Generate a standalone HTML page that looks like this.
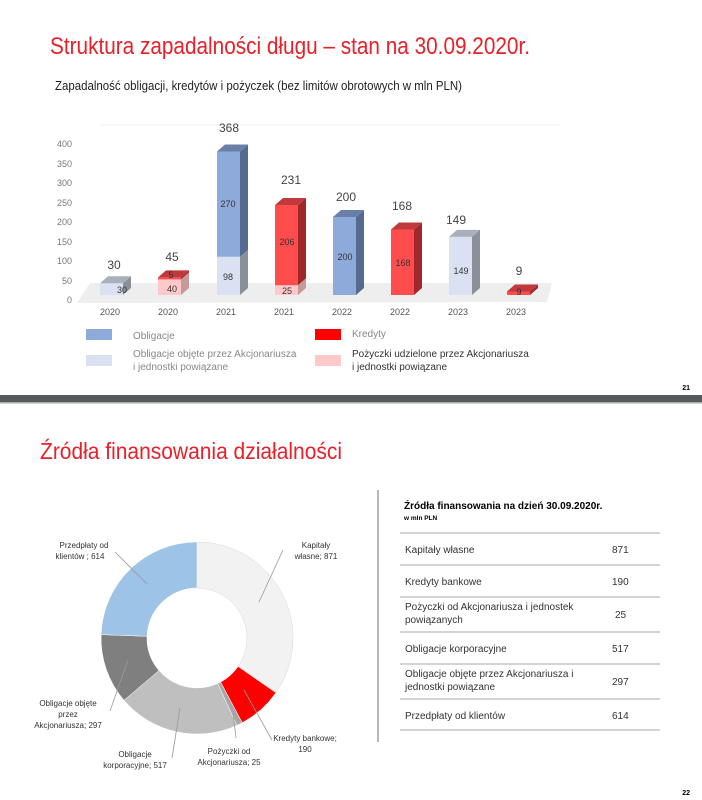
<!DOCTYPE html>
<html><head><meta charset="utf-8"><style>
html,body{margin:0;padding:0;background:#fff;}
svg{display:block;font-family:"Liberation Sans",sans-serif;}
</style></head><body>
<svg width="702" height="800" viewBox="0 0 702 800" xmlns="http://www.w3.org/2000/svg">
<rect width="702" height="800" fill="#fff"/>
<text x="50" y="54" font-size="24" fill="#e8202a" textLength="480" lengthAdjust="spacingAndGlyphs">Struktura zapadalności długu – stan na 30.09.2020r.</text>
<text x="55" y="90" font-size="13" fill="#222" textLength="407" lengthAdjust="spacingAndGlyphs">Zapadalność obligacji, kredytów i pożyczek (bez limitów obrotowych w mln PLN)</text>
<line x1="100" y1="125" x2="560" y2="125" stroke="#f0f0f0"/>
<!-- y axis -->
<g font-size="9" fill="#777" text-anchor="end">
<text x="72" y="303">0</text><text x="72" y="284">50</text><text x="72" y="264">100</text><text x="72" y="245">150</text><text x="72" y="225">200</text><text x="72" y="206">250</text><text x="72" y="186">300</text><text x="72" y="167">350</text><text x="72" y="147">400</text>
</g>
<!-- floor -->
<polygon points="77,303 90,283 552,283 547,302" fill="#eeeeee"/>
<!-- Bar1 -->
<rect x="100" y="283.3" width="23" height="11.7" fill="#d9e1f2"/>
<polygon points="123,283.3 131,276.3 131,288 123,295" fill="#8a9099"/>
<polygon points="100,283.3 108,276.3 131,276.3 123,283.3" fill="#a9b0bb"/>
<!-- Bar2 -->
<rect x="158" y="279.4" width="23" height="15.6" fill="#ffc9c9"/>
<polygon points="181,279.4 189,272.4 189,288 181,295" fill="#c79a9a"/>
<rect x="158" y="277.4" width="23" height="2" fill="#ff4d4d"/>
<polygon points="181,277.4 189,270.4 189,272.4 181,279.4" fill="#a0282b"/>
<polygon points="158,277.4 166,270.4 189,270.4 181,277.4" fill="#c0393b"/>
<!-- Bar3 -->
<rect x="217" y="256.8" width="23" height="38.2" fill="#d9e1f2"/>
<polygon points="240,256.8 248,249.8 248,288 240,295" fill="#8a9099"/>
<rect x="217" y="151.5" width="23" height="105.3" fill="#8eaadb"/>
<polygon points="240,151.5 248,144.5 248,249.8 240,256.8" fill="#56698f"/>
<polygon points="217,151.5 225,144.5 248,144.5 240,151.5" fill="#6a7fa8"/>
<!-- Bar4 -->
<rect x="275" y="285.25" width="23" height="9.75" fill="#ffc9c9"/>
<polygon points="298,285.25 306,278.25 306,288 298,295" fill="#c79a9a"/>
<rect x="275" y="205" width="23" height="80.25" fill="#ff4d4d"/>
<polygon points="298,205 306,198 306,278.25 298,285.25" fill="#a0282b"/>
<polygon points="275,205 283,198 306,198 298,205" fill="#c0393b"/>
<!-- Bar5 -->
<rect x="333" y="217" width="23" height="78" fill="#8eaadb"/>
<polygon points="356,217 364,210 364,288 356,295" fill="#56698f"/>
<polygon points="333,217 341,210 364,210 356,217" fill="#6a7fa8"/>
<!-- Bar6 -->
<rect x="391" y="229.5" width="23" height="65.5" fill="#ff4d4d"/>
<polygon points="414,229.5 422,222.5 422,288 414,295" fill="#a0282b"/>
<polygon points="391,229.5 399,222.5 422,222.5 414,229.5" fill="#c0393b"/>
<!-- Bar7 -->
<rect x="449" y="236.9" width="23" height="58.1" fill="#d9e1f2"/>
<polygon points="472,236.9 480,229.9 480,288 472,295" fill="#8a9099"/>
<polygon points="449,236.9 457,229.9 480,229.9 472,236.9" fill="#a9b0bb"/>
<!-- Bar8 -->
<rect x="507" y="291.5" width="23" height="3.5" fill="#ff4d4d"/>
<polygon points="530,291.5 538,284.5 538,288 530,295" fill="#a0282b"/>
<polygon points="507,291.5 515,284.5 538,284.5 530,291.5" fill="#c0393b"/>
<!-- inner labels -->
<g font-size="9" fill="#333" text-anchor="middle">
<text x="122" y="293">30</text>
<text x="172" y="292">40</text><text x="171" y="278">5</text>
<text x="228" y="280">98</text><text x="228" y="207">270</text>
<text x="287" y="294">25</text><text x="287" y="245">206</text>
<text x="345" y="260">200</text>
<text x="403" y="266">168</text>
<text x="461" y="274">149</text>
<text x="519" y="295">9</text>
</g>
<g font-size="12" fill="#444" text-anchor="middle">
<text x="114" y="269">30</text>
<text x="172" y="261">45</text>
<text x="229" y="132">368</text>
<text x="291" y="184">231</text>
<text x="346" y="201">200</text>
<text x="402" y="210">168</text>
<text x="456" y="224">149</text>
<text x="519" y="275">9</text>
</g>
<g font-size="9" fill="#555" text-anchor="middle">
<text x="110" y="315">2020</text><text x="168" y="315">2020</text><text x="226" y="315">2021</text><text x="284" y="315">2021</text>
<text x="342" y="315">2022</text><text x="400" y="315">2022</text><text x="458" y="315">2023</text><text x="516" y="315">2023</text>
</g>
<!-- legend -->
<rect x="86" y="329" width="26" height="11" fill="#8eaadb"/>
<text x="133" y="339" font-size="10" fill="#888">Obligacje</text>
<rect x="86" y="355" width="26" height="11" fill="#d9e1f2"/>
<text x="133" y="357" font-size="10" fill="#888">Obligacje objęte przez Akcjonariusza</text>
<text x="133" y="370" font-size="10" fill="#888">i jednostki powiązane</text>
<rect x="315" y="329" width="26" height="11" fill="#ff0000"/>
<text x="352" y="337" font-size="10" fill="#888">Kredyty</text>
<rect x="315" y="355" width="26" height="11" fill="#ffc9c9"/>
<text x="352" y="357" font-size="10" fill="#333">Pożyczki udzielone przez Akcjonariusza</text>
<text x="352" y="370" font-size="10" fill="#333">i jednostki powiązane</text>
<text x="690" y="390" font-size="7" font-weight="bold" fill="#000" text-anchor="end">21</text>
<!-- separator -->
<rect x="0" y="395" width="702" height="8" fill="#555a5c"/>
<rect x="0" y="402" width="702" height="1.5" fill="#aaa"/>
<text x="40" y="459" font-size="23" fill="#e8202a" textLength="302" lengthAdjust="spacingAndGlyphs">Źródła finansowania działalności</text>
<!-- donut -->
<g stroke="#fff" stroke-width="0.5">
<path d="M197,542 A96,96 0 0 1 275.9,692.7 L238.1,666.5 A50,50 0 0 0 197,588 Z" fill="#f2f2f2" stroke="#d8d8d8"/>
<path d="M275.9,692.7 A96,96 0 0 1 242.2,722.7 L220.6,682.1 A50,50 0 0 0 238.1,666.5 Z" fill="#ff0000"/>
<path d="M242.2,722.7 A96,96 0 0 1 236.8,725.4 L217.7,683.5 A50,50 0 0 0 220.6,682.1 Z" fill="#a6a6a6"/>
<path d="M236.8,725.4 A96,96 0 0 1 124,700.3 L159,670.5 A50,50 0 0 0 217.7,683.5 Z" fill="#bfbfbf"/>
<path d="M124,700.3 A96,96 0 0 1 101.1,634.6 L147,636.3 A50,50 0 0 0 159,670.5 Z" fill="#7f7f7f"/>
<path d="M101.1,634.6 A96,96 0 0 1 197,542 L197,588 A50,50 0 0 0 147,636.3 Z" fill="#9dc3e6"/>
</g>
<g stroke="#999" stroke-width="0.8" fill="none">
<line x1="115" y1="552" x2="147" y2="584"/>
<line x1="283" y1="550" x2="259" y2="602"/>
<line x1="244" y1="690" x2="272" y2="740"/>
<line x1="233" y1="713" x2="236" y2="738"/>
<line x1="180" y1="708" x2="172" y2="758"/>
<line x1="128" y1="660" x2="110" y2="711"/>
</g>
<g font-size="8" fill="#333" text-anchor="middle">
<text x="84" y="548">Przedpłaty od</text><text x="80" y="559">klientów ; 614</text>
<text x="316" y="548">Kapitały</text><text x="316" y="559">własne; 871</text>
<text x="305" y="741">Kredyty bankowe;</text><text x="305" y="752">190</text>
<text x="229" y="754">Pożyczki od</text><text x="229" y="765">Akcjonariusza; 25</text>
<text x="135" y="757">Obligacje</text><text x="135" y="768">korporacyjne; 517</text>
<text x="68" y="706">Obligacje objęte</text><text x="68" y="717">przez</text><text x="68" y="728">Akcjonariusza; 297</text>
</g>
<!-- table -->
<line x1="378" y1="490" x2="378" y2="742" stroke="#888" stroke-width="1.2"/>
<text x="404" y="509" font-size="10" font-weight="bold" fill="#000">Źródła finansowania na dzień 30.09.2020r.</text>
<text x="404" y="520" font-size="6.5" font-weight="bold" fill="#000">w mln PLN</text>
<g stroke="#aaa" stroke-width="1">
<line x1="400" y1="533" x2="660" y2="533"/><line x1="400" y1="565" x2="660" y2="565"/>
<line x1="400" y1="597" x2="660" y2="597"/><line x1="400" y1="632" x2="660" y2="632"/>
<line x1="400" y1="664" x2="660" y2="664"/><line x1="400" y1="699" x2="660" y2="699"/>
<line x1="400" y1="730" x2="660" y2="730"/>
</g>
<g font-size="10" fill="#333">
<text x="405" y="553">Kapitały własne</text><text x="612" y="553">871</text>
<text x="405" y="585">Kredyty bankowe</text><text x="612" y="585">190</text>
<text x="405" y="610">Pożyczki od Akcjonariusza i jednostek</text><text x="405" y="623">powiązanych</text><text x="615" y="618">25</text>
<text x="405" y="652">Obligacje korporacyjne</text><text x="612" y="652">517</text>
<text x="405" y="677">Obligacje objęte przez Akcjonariusza i</text><text x="405" y="690">jednostki powiązane</text><text x="612" y="685">297</text>
<text x="405" y="719">Przedpłaty od klientów</text><text x="612" y="719">614</text>
</g>
<text x="690" y="795" font-size="7" font-weight="bold" fill="#000" text-anchor="end">22</text>
</svg>
</body></html>
